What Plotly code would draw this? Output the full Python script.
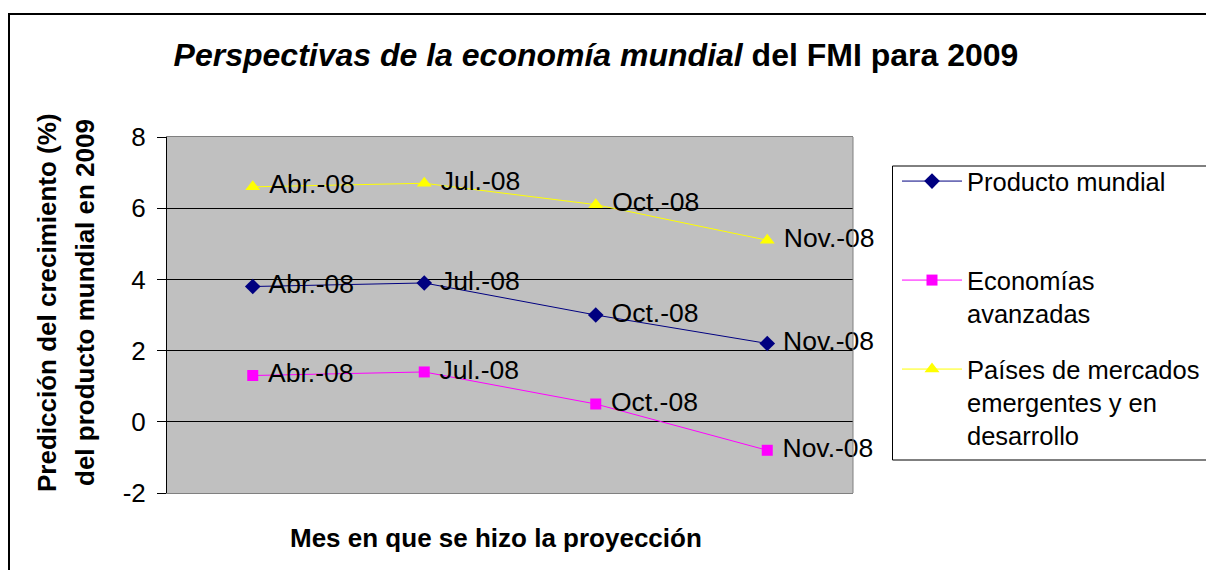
import plotly.graph_objects as go

# ---- data ----
months = ["Abr.-08", "Jul.-08", "Oct.-08", "Nov.-08"]
producto_mundial = [3.8, 3.9, 3.0, 2.2]
economias_avanzadas = [1.3, 1.4, 0.5, -0.8]
paises_emergentes = [6.6, 6.7, 6.1, 5.1]
y_tick_values = [-2, 0, 2, 4, 6, 8]
y_tick_labels = ["-2", "0", "2", "4", "6", "8"]

series_names = ["Producto mundial", "Economías<br>avanzadas",
                "Países de mercados<br>emergentes y en<br>desarrollo"]
series_values = [producto_mundial, economias_avanzadas, paises_emergentes]
series_colors = ["#000080", "#FF00FF", "#FFFF00"]
series_symbols = ["diamond", "square", "triangle-up"]
series_sizes = [12, 11, 13]

FONT = "Arial, Liberation Sans, sans-serif"
W, H = 1214, 578          # window size
OFF = 8                   # default page body margin
FIG_W, FIG_H = W - OFF, H - 2 * OFF   # avoid vertical page overflow
PL, PR, PT, PB = 167, 853, 137, 493  # plot area in window pixels


def px_x(p):
    return (p - PL) / (PR - PL)


def px_y(p):
    return (PB - p) / (PB - PT)


fig = go.Figure()
legend_ids = ["legend", "legend2", "legend3"]
for name, vals, col, sym, sz, lg in zip(series_names, series_values, series_colors,
                                        series_symbols, series_sizes, legend_ids):
    fig.add_trace(go.Scatter(
        x=months, y=vals, name=name, mode="lines+markers+text",
        line=dict(color=col, width=1),
        marker=dict(color=col, symbol=sym, size=sz, line=dict(width=0)),
        text=["\u00a0" + m for m in months], textposition="middle right",
        textfont=dict(family=FONT, size=26.5, color="black"),
        cliponaxis=False, legend=lg,
    ))

legend_common = dict(font=dict(family=FONT, size=25.5, color="black"),
                     bgcolor="rgba(0,0,0,0)", borderwidth=0, valign="top",
                     xanchor="left", yanchor="top", itemwidth=60)

fig.update_layout(
    width=FIG_W, height=FIG_H,
    margin=dict(l=PL - OFF, r=OFF + FIG_W - PR, t=PT - OFF, b=OFF + FIG_H - PB,
                pad=0, autoexpand=False),
    paper_bgcolor="white", plot_bgcolor="#C0C0C0",
    showlegend=True,
    legend=dict(x=px_x(897), y=px_y(158), **legend_common),
    legend2=dict(x=px_x(897), y=px_y(257), **legend_common),
    legend3=dict(x=px_x(897), y=px_y(346), **legend_common),
    title=dict(text="<b><i>Perspectivas de la economía mundial</i> del FMI para 2009</b>",
               x=(596 - OFF) / FIG_W, xanchor="center",
               y=1 - (55 - OFF) / FIG_H, yanchor="middle",
               font=dict(family=FONT, size=32, color="black")),
    xaxis=dict(type="category", range=[-0.5, 3.5], showticklabels=False, ticks="",
               showgrid=False, showline=True, linecolor="#808080", linewidth=1,
               mirror=True, zeroline=False),
    yaxis=dict(range=[-2, 8], tickvals=y_tick_values, ticktext=y_tick_labels,
               ticks="outside", ticklen=9,
               tickcolor="black", showline=True, linecolor="black", linewidth=1,
               showgrid=True, gridcolor="black", gridwidth=1, zeroline=False,
               tickfont=dict(family=FONT, size=26, color="black"),
               ticklabelstandoff=6),
)

shapes = [
    # right border of the plot area
    dict(type="line", xref="paper", yref="paper", x0=1, x1=1, y0=0, y1=1,
         line=dict(color="#808080", width=1)),
    # legend box
    dict(type="rect", xref="paper", yref="paper", x0=px_x(892.5), x1=px_x(1222),
         y0=px_y(166), y1=px_y(460), line=dict(color="black", width=1)),
    # chart outer border
    dict(type="rect", xref="paper", yref="paper", x0=px_x(9), x1=px_x(1225),
         y0=px_y(14), y1=px_y(590), line=dict(color="black", width=2)),
]
fig.update_layout(shapes=shapes)

annotations = [
    dict(text="<b>Predicción del crecimiento (%)</b>", x=px_x(47), y=px_y(303),
         xref="paper", yref="paper", textangle=-90, showarrow=False,
         xanchor="center", yanchor="middle",
         font=dict(family=FONT, size=26, color="black")),
    dict(text="<b>del producto mundial en 2009</b>", x=px_x(85), y=px_y(303),
         xref="paper", yref="paper", textangle=-90, showarrow=False,
         xanchor="center", yanchor="middle",
         font=dict(family=FONT, size=26, color="black")),
    dict(text="<b>Mes en que se hizo la proyección</b>", x=px_x(496), y=px_y(538),
         xref="paper", yref="paper", showarrow=False,
         xanchor="center", yanchor="middle",
         font=dict(family=FONT, size=26, color="black")),
]
fig.update_layout(annotations=annotations)

fig.write_html("out.html")
